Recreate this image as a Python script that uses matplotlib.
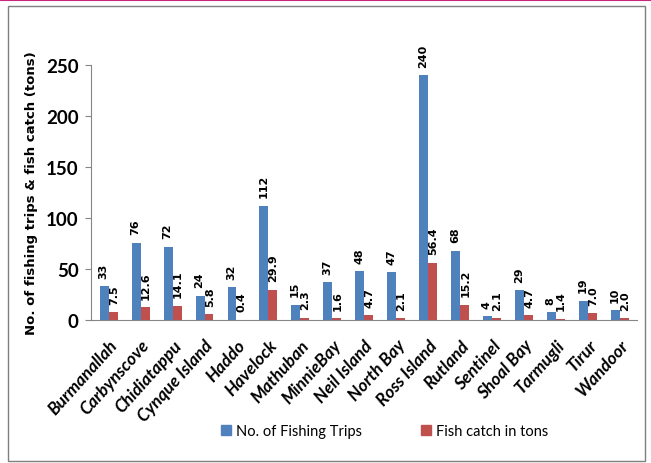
import numpy as np
import matplotlib.pyplot as plt
from matplotlib.patches import Rectangle
from matplotlib.lines import Line2D

sites = ['Burmanallah', 'Carbynscove', 'Chidiatappu', 'Cynque Island', 'Haddo',
         'Havelock', 'Mathuban', 'MinnieBay', 'Neil Island', 'North Bay',
         'Ross Island', 'Rutland', 'Sentinel', 'Shoal Bay', 'Tarmugli',
         'Tirur', 'Wandoor']
trips = [33, 76, 72, 24, 32, 112, 15, 37, 48, 47, 240, 68, 4, 29, 8, 19, 10]
catch = [7.5, 12.6, 14.1, 5.8, 0.4, 29.9, 2.3, 1.6, 4.7, 2.1, 56.4, 15.2,
         2.1, 4.7, 1.4, 7.0, 2.0]
catch_labels = ['7.5', '12.6', '14.1', '5.8', '0.4', '29.9', '2.3', '1.6', '4.7',
                '2.1', '56.4', '15.2', '2.1', '4.7', '1.4', '7.0', '2.0']

blue = '#4F81BD'
red = '#C0504D'

fig = plt.figure(figsize=(6.51, 4.64), dpi=100)
ax = fig.add_axes([0.140, 0.308, 0.839, 0.550])

x = np.arange(len(sites))
w = 0.28
ax.bar(x - w / 2, trips, w, color=blue, label='No. of Fishing Trips')
ax.bar(x + w / 2, catch, w, color=red, label='Fish catch in tons')

for xi, v in zip(x, trips):
    ax.annotate(str(v), (xi - w / 2, v), xytext=(-0.5, 6), textcoords='offset points',
                rotation=90, ha='center', va='bottom', fontsize=8, fontweight='bold')
for xi, v, s in zip(x, catch, catch_labels):
    ax.annotate(s, (xi + w / 2, v), xytext=(0.5, 6), textcoords='offset points',
                rotation=90, ha='center', va='bottom', fontsize=8, fontweight='bold')

ax.set_xlim(-0.55, len(sites) - 0.45)
ax.set_ylim(0, 250)
ax.set_yticks([0, 50, 100, 150, 200, 250])
ax.set_xticks(x)
ax.set_xticklabels(sites, rotation=48, ha='right', rotation_mode='anchor',
                   fontsize=12.5, fontweight='bold', fontstyle='italic', family='Lato')
for lbl in ax.get_yticklabels():
    lbl.set_fontsize(13.5)
    lbl.set_fontweight('bold')
    lbl.set_family('Lato')
ax.tick_params(axis='x', length=0, pad=12)
ax.tick_params(axis='y', length=4, color='#868686', pad=5)
for side in ['top', 'right']:
    ax.spines[side].set_visible(False)
for side in ['left', 'bottom']:
    ax.spines[side].set_color('#868686')
ax.set_ylabel('No. of fishing trips & fish catch (tons)', fontsize=9.5,
              fontweight='bold', labelpad=6)

handles = [Line2D([], [], marker='s', color=blue, linestyle='none', markersize=7),
           Line2D([], [], marker='s', color=red, linestyle='none', markersize=7)]
fig.legend(handles, ['No. of Fishing Trips', 'Fish catch in tons'],
           loc='center', bbox_to_anchor=(0.590, 0.068), ncol=2, frameon=False,
           prop={'family': 'Lato', 'size': 10.5}, handletextpad=0.3,
           columnspacing=4.0, handlelength=0.8)

# chart frame and top rule
fig.add_artist(Rectangle((8 / 651, 2 / 464), 637 / 651, 455 / 464,
                         transform=fig.transFigure, fill=False,
                         edgecolor='#7f7f7f', linewidth=1))
fig.add_artist(Line2D([0, 1], [0.998, 0.998], transform=fig.transFigure,
                      color='#C8267A', linewidth=1.5))

fig.savefig('out.png', dpi=100)
